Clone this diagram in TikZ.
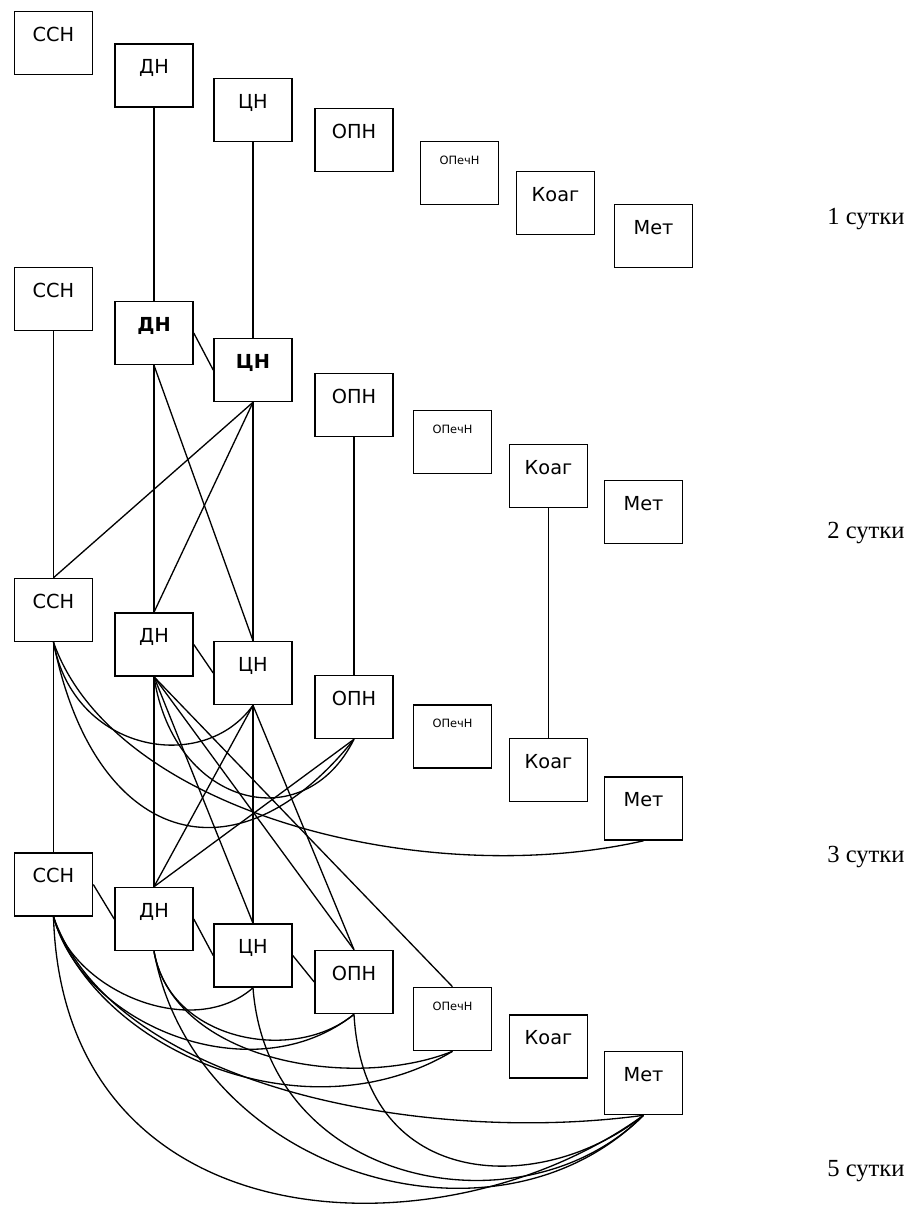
\documentclass[tikz,border=0pt]{standalone}
\usepackage{fontspec}
\setmainfont{DejaVu Sans}
\newfontfamily\dayserif{Liberation Serif}
\usepackage{tikz}
\newcommand\blkfont{\fontsize{11}{13}\selectfont}
\tikzset{
  blk/.style={draw, line width=0.9pt, minimum width=1.56cm, minimum height=1.26cm, inner sep=0pt, font=\blkfont, text height=8pt, text depth=10pt},
  tinyblk/.style={blk, font=\fontsize{6.5}{7}\selectfont, text height=5pt, text depth=15pt},
  boldblk/.style={blk, font=\blkfont\bfseries},
  link/.style={draw, line width=0.75pt},
  daylbl/.style={font=\dayserif\fontsize{14}{16}\selectfont, anchor=west, inner sep=0pt}
}
\begin{document}
\begin{tikzpicture}[x=0.02cm, y=-0.02cm]
  \path[fill=white] (0,0) rectangle (920,1211);
  \useasboundingbox (0,0) rectangle (920,1211);

  \node[blk] (ssn1) at (53.5,43) {ССН};
  \node[blk] (dn1) at (154,75.5) {ДН};
  \node[blk] (cn1) at (253,110) {ЦН};
  \node[blk] (opn1) at (354,140) {ОПН};
  \node[tinyblk] (opech1) at (459.5,173) {ОПечН};
  \node[blk] (koag1) at (555.5,203) {Коаг};
  \node[blk] (met1) at (653.5,236) {Мет};

  \node[blk] (ssn2) at (53.5,299) {ССН};
  \node[boldblk] (dn2) at (154,333) {ДН};
  \node[boldblk] (cn2) at (253,370) {ЦН};
  \node[blk] (opn2) at (354,405) {ОПН};
  \node[tinyblk] (opech2) at (452.5,442) {ОПечН};
  \node[blk] (koag2) at (548.5,476) {Коаг};
  \node[blk] (met2) at (643.5,512) {Мет};

  \node[blk] (ssn3) at (53.5,610) {ССН};
  \node[blk] (dn3) at (154,644.5) {ДН};
  \node[blk] (cn3) at (253,673) {ЦН};
  \node[blk] (opn3) at (354,707) {ОПН};
  \node[tinyblk] (opech3) at (452.5,736.5) {ОПечН};
  \node[blk] (koag3) at (548.5,770) {Коаг};
  \node[blk] (met3) at (643.5,808.5) {Мет};

  \node[blk] (ssn4) at (53.5,884.5) {ССН};
  \node[blk] (dn4) at (154,919) {ДН};
  \node[blk] (cn4) at (253,955.5) {ЦН};
  \node[blk] (opn4) at (354,982) {ОПН};
  \node[tinyblk] (opech4) at (452.5,1019) {ОПечН};
  \node[blk] (koag4) at (548.5,1046.5) {Коаг};
  \node[blk] (met4) at (643.5,1083) {Мет};

  \node[daylbl] (day1) at (827,219) {1 сутки};
  \node[daylbl] (day2) at (827,533) {2 сутки};
  \node[daylbl] (day3) at (827,857) {3 сутки};
  \node[daylbl] (day5) at (827,1171) {5 сутки};

  \draw[link] (dn1.south) -- (dn2.north);
  \draw[link] (cn1.south) -- (cn2.north);

  \draw[link] (dn2.east) -- (cn2.west);
  \draw[link] (ssn2.south) -- (ssn3.north);
  \draw[link] (dn2.south) -- (dn3.north);
  \draw[link] (cn2.south) -- (cn3.north);
  \draw[link] (dn2.south) -- (cn3.north);
  \draw[link] (cn2.south) -- (dn3.north);
  \draw[link] (cn2.south) -- (ssn3.north);
  \draw[link] (opn2.south) -- (opn3.north);
  \draw[link] (koag2.south) -- (koag3.north);

  \draw[link] (dn3.east) -- (cn3.west);
  \draw[link] (ssn3.south) .. controls +(20,110) and +(-50,70) .. (cn3.south);
  \draw[link] (ssn3.south) .. controls +(40,200) and +(-120,150) .. (opn3.south);
  \draw[link] (ssn3.south) .. controls +(60,170) and +(-220,50) .. (met3.south);
  \draw[link] (dn3.south) .. controls +(20,130) and +(-50,100) .. (opn3.south);

  \draw[link] (ssn3.south) -- (ssn4.north);
  \draw[link] (dn3.south) -- (dn4.north);
  \draw[link] (cn3.south) -- (cn4.north);
  \draw[link] (cn3.south) -- (dn4.north);
  \draw[link] (opn3.south) -- (dn4.north);
  \draw[link] (dn3.south) -- (cn4.north);
  \draw[link] (dn3.south) -- (opn4.north);
  \draw[link] (cn3.south) -- (opn4.north);
  \draw[link] (dn3.south) -- (opech4.north);

  \draw[link] (ssn4.east) -- (dn4.west);
  \draw[link] (dn4.east) -- (cn4.west);
  \draw[link] (cn4.east) -- (opn4.west);
  \draw[link] (ssn4.south) .. controls +(20,75) and +(-60,53) .. (cn4.south);
  \draw[link] (ssn4.south) .. controls +(30,110) and +(-100,80) .. (opn4.south);
  \draw[link] (ssn4.south) .. controls +(40,130) and +(-150,90) .. (opech4.south);
  \draw[link] (ssn4.south) .. controls +(60,170) and +(-220,30) .. (met4.south);
  \draw[link] (ssn4.south) .. controls +(10,330) and +(-200,145) .. (met4.south);
  \draw[link] (dn4.south) .. controls +(15,90) and +(-60,50) .. (opn4.south);
  \draw[link] (dn4.south) .. controls +(20,110) and +(-100,40) .. (opech4.south);
  \draw[link] (dn4.south) .. controls +(40,220) and +(-150,150) .. (met4.south);
  \draw[link] (cn4.south) .. controls +(15,200) and +(-120,120) .. (met4.south);
  \draw[link] (opn4.south) .. controls +(10,180) and +(-100,80) .. (met4.south);
\end{tikzpicture}
\end{document}
